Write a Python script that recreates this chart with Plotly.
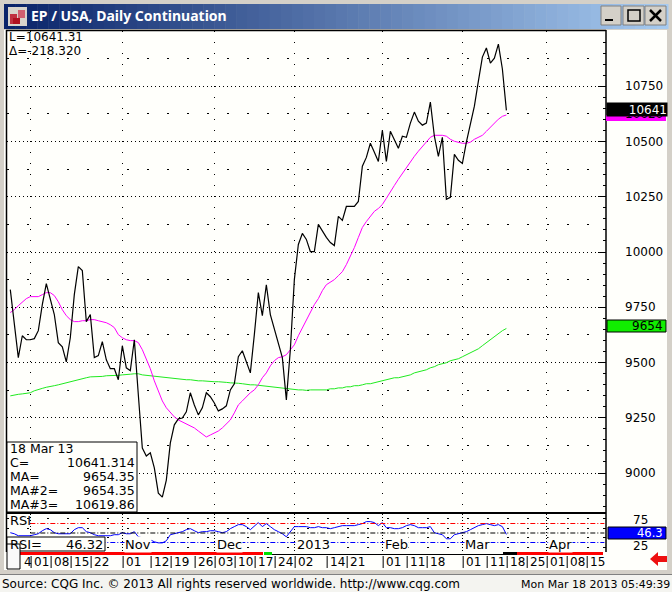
import plotly.graph_objects as go

# daily closes, one per bar
close = [9830,9671,9522,9621,9603,9603,9608,9644,9762,9857,
9785,9717,9590,9571,9503,9612,9807,9934,9916,9685,
9717,9522,9531,9594,9512,9472,9472,9422,9576,9476,
9463,9603,9354,9113,9077,9091,9023,8909,8891,8968,
9136,9218,9245,9249,9277,9363,9308,9263,9295,9363,
9345,9317,9281,9290,9304,9376,9404,9526,9553,9503,
9453,9626,9816,9712,9852,9717,9649,9590,9522,9331,
9558,9875,10034,10084,10057,10002,10002,10125,10093,10066,
10043,10029,10161,10143,10206,10206,10206,10229,10388,10428,
10492,10451,10410,10551,10410,10546,10506,10469,10524,10519,
10583,10633,10592,10574,10583,10678,10524,10433,10519,10238,
10247,10442,10415,10401,10497,10578,10660,10773,10882,10923,
10855,10877,10941,10828,10641]

ma_fast = [9726,9739,9757,9771,9789,9798,9798,9798,9807,9816,
9816,9803,9775,9739,9712,9694,9685,9685,9689,9689,
9694,9694,9689,9685,9680,9671,9658,9626,9612,9603,
9599,9599,9590,9558,9517,9472,9417,9367,9326,9295,
9272,9254,9240,9231,9222,9213,9204,9190,9177,9163,
9172,9181,9190,9204,9222,9240,9272,9308,9326,9345,
9363,9376,9399,9431,9453,9485,9508,9522,9526,9535,
9558,9580,9621,9658,9694,9730,9762,9789,9825,9852,
9862,9875,9893,9911,9943,9979,10020,10066,10111,10138,
10161,10184,10197,10215,10243,10274,10301,10329,10356,10383,
10410,10433,10456,10478,10497,10519,10528,10528,10528,10524,
10510,10501,10497,10492,10492,10497,10510,10519,10528,10546,
10565,10583,10601,10614,10620]

ma_slow = [9349,9354,9356,9358,9361,9363,9372,9376,9383,9388,
9390,9395,9399,9404,9408,9413,9417,9422,9426,9431,
9435,9435,9437,9437,9440,9440,9440,9442,9444,9444,
9447,9449,9449,9444,9442,9440,9437,9435,9435,9431,
9428,9426,9424,9422,9422,9422,9419,9417,9417,9415,
9413,9413,9413,9413,9410,9408,9408,9406,9404,9401,
9399,9399,9397,9395,9392,9390,9388,9385,9383,9381,
9379,9376,9376,9376,9374,9376,9376,9376,9376,9376,
9381,9381,9385,9385,9390,9390,9395,9395,9399,9404,
9404,9408,9413,9417,9422,9426,9431,9431,9435,9440,
9444,9453,9458,9462,9467,9476,9481,9490,9494,9499,
9508,9512,9517,9526,9535,9544,9553,9562,9576,9590,
9603,9617,9630,9644,9654]

rsi = [50.8,48,42.8,42.8,42.8,42.8,45.5,48,56,61.4,
58.8,50.8,48,48,48,48,58.8,64,64,53.5,
50.8,45.5,42.8,42.8,42.8,42.8,45.5,45.5,50.8,48,
48,53.5,40,37.5,34.8,32,26.9,24,24,29.5,
45.5,48,50.8,53.5,58.8,61.4,56,50.8,53.5,53.5,
56,56,53.5,50.8,53.5,61.4,66.8,72,72,66.8,
58.8,69.4,77.4,66.8,74.7,66.8,58.8,53.5,48,40,
53.5,66.8,66.8,66.8,66.8,64,64,66.8,64,64,
61.4,64,66.8,69.4,69.4,69.4,69.4,72,74.7,80,
80,77.4,69.4,77.4,64,64,61.4,61.4,64,69.4,
72,69.4,64,64,64,66.8,50.8,48,45.5,34.8,
34.8,45.5,48,50.8,53.5,58.8,64,69.4,72,74.7,
72,69.4,72,66.8,46.3]

price_ticks = [9000,9250,9500,9750,10000,10250,10500,10750]
price_rows = [9125,9375,9625,9875,10125,10375,10625,10875]
week_labels = ['4','01','08','15','22','01','12','19','26','03','10','17','24','02','14','21','01','11','18','01','11','18','25','01','08','15']
week_bars = [2.4,5,10,15,20,28,35,40,46,51,56,61,66,71,79,84,93,99,104,113,119,124,129,134,139,144]
month_labels = ['Nov','Dec','2013','Feb','Mar','Apr']
month_bars = [28,51,71,93,113,134]
grid_bars = [5,28,51,71,93,113,134]

FONT = 'DejaVu Sans'
W, H = 672, 592
bars = list(range(len(close)))


def px(x):
    return x / W


def py(y):
    return 1 - y / H


def box(x0, y0, x1, y1, fill, line=None, width=1, layer='above'):
    return dict(type='rect', xref='paper', yref='paper', x0=px(x0), x1=px(x1), y0=py(y0), y1=py(y1),
                fillcolor=fill, line=dict(color=line, width=width if line else 0), layer=layer)


def bar_line(x0, y0, x1, y1, color='black', width=1):
    return dict(type='line', xref='paper', yref='paper', x0=px(x0), x1=px(x1), y0=py(y0), y1=py(y1),
                line=dict(color=color, width=width), layer='above')


def label(x, y, text, size=13, color='black', anchor='left', bold=False, family=FONT):
    if bold:
        text = '<b>' + text + '</b>'
    return dict(xref='paper', yref='paper', x=px(x), y=py(y), text=text, showarrow=False, borderpad=0,
                xanchor=anchor, yanchor='middle', font=dict(family=family, size=size, color=color))


fig = go.Figure()
fig.add_trace(go.Scatter(x=bars, y=ma_slow, mode='lines', line=dict(color='#1FEA1F', width=1), hoverinfo='skip'))
fig.add_trace(go.Scatter(x=bars, y=ma_fast, mode='lines', line=dict(color='#FF00FF', width=1), hoverinfo='skip'))
fig.add_trace(go.Scatter(x=bars, y=close, mode='lines', line=dict(color='black', width=1.2), hoverinfo='skip'))
fig.add_trace(go.Scatter(x=bars, y=rsi, mode='lines', line=dict(color='#0000FF', width=1), xaxis='x2', yaxis='y2', hoverinfo='skip'))
# empty trace only to get the dashed rows axis drawn
fig.add_trace(go.Scatter(x=[None], y=[None], yaxis='y3', hoverinfo='skip'))

shapes = []
# window frame and title bar
shapes.append(box(4, 30, 667, 570, '#FFFFFB', layer='below'))
shapes.append(box(0, 575, 672, 592, '#F4F4F0', layer='below'))
shapes.append(bar_line(0, 574.5, 672, 574.5, '#808080', 1))
steps = 60
for n in range(steps):
    t = n / (steps - 1)
    c = 'rgb(%d,%d,%d)' % (10 + t * 156, 36 + t * 166, 106 + t * 134)
    shapes.append(box(4 + 664 * n / steps, 4, 4 + 664 * (n + 1) / steps + 0.5, 29, c))
# icon
shapes.append(box(8, 7, 27, 26, '#D8D4CC'))
shapes.append(box(10, 14, 17, 24, '#C03040'))
shapes.append(box(18, 10, 25, 18, '#D06070'))
shapes.append(box(13, 18, 20, 24, '#B01020'))
# buttons
for x0, x1 in [(601, 621), (623, 644), (645, 666)]:
    shapes.append(box(x0, 6, x1, 25, '#D4D0C8', '#808080'))
shapes.append(box(605, 19, 613, 21, 'black'))
shapes.append(box(628, 10, 640, 21, 'rgba(0,0,0,0)', 'black', 1.5))
shapes.append(bar_line(650, 10, 661, 21, 'black', 2.5))
shapes.append(bar_line(661, 10, 650, 21, 'black', 2.5))
# pane borders
shapes.append(bar_line(6, 30.5, 606, 30.5, 'black', 1.5))
shapes.append(bar_line(6.5, 30, 6.5, 552, 'black', 1.5))
shapes.append(bar_line(606, 30, 606, 552, 'black', 1.5))
shapes.append(bar_line(6, 513, 606, 513, 'black', 2))
# RSI levels
for level, colour in [(75, '#FF0000'), (50, 'black'), (25, '#0000FF')]:
    shapes.append(dict(type='line', xref='x2', yref='y2', x0=5, x1=148.5, y0=level, y1=level,
                       line=dict(color=colour, width=1, dash='5px,2px,1px,2px'), layer='above'))
# date strip
shapes.append(box(20, 552, 263, 555, '#FF0000'))
shapes.append(box(264, 552, 272, 555, '#00E000'))
shapes.append(bar_line(272, 554.5, 503, 554.5, 'black', 1))
shapes.append(box(503, 552, 517, 555, 'black'))
shapes.append(box(517, 552, 603, 555, '#FF0000'))
for b in week_bars[1:]:
    shapes.append(dict(type='line', xref='x2', yref='paper', x0=b + 0.2, x1=b + 0.2, y0=py(556), y1=py(568),
                       line=dict(color='black', width=1), layer='above'))
# value tags
shapes.append(box(606, 115, 666, 121, '#FF00FF'))
shapes.append(box(607, 320, 666, 332, '#11EE00', 'black'))
shapes.append(box(608, 527, 666, 539, '#0000FF', 'black'))
# info boxes
shapes.append(box(7, 442, 137, 512, '#FFFFFB', 'black'))
shapes.append(box(7, 537, 105, 551, '#FFFFFB', 'black'))
shapes.append(box(7, 544, 20, 569, '#FAFAFA', 'black'))
# arrow
shapes.append(dict(type='path', xref='paper', yref='paper', layer='above', fillcolor='#EE1010', line=dict(width=0),
                   path='M %f %f L %f %f L %f %f L %f %f L %f %f L %f %f L %f %f Z' % (
                       px(650), py(559), px(658), py(552), px(658), py(556), px(667), py(556),
                       px(667), py(562), px(658), py(562), px(658), py(566))))

notes = [
    label(30, 16, 'EP / USA, Daily Continuation', size=14, color='white', bold=True, family='Noto Sans'),
    label(8, 37, 'L=10641.31', size=12),
    label(8, 51, '\u0394=-218.320', size=12),
    label(9, 448, '18 Mar 13', size=12.5),
    label(9, 462.5, 'C=', size=12.5),
    label(136, 462.5, '10641.314', size=12.5, anchor='right'),
    label(9, 476.5, 'MA=', size=12.5),
    label(136, 476.5, '9654.35', size=12.5, anchor='right'),
    label(9, 490.5, 'MA#2=', size=12.5),
    label(136, 490.5, '9654.35', size=12.5, anchor='right'),
    label(9, 504.5, 'MA#3=', size=12.5),
    label(136, 504.5, '10619.86', size=12.5, anchor='right'),
    label(9, 520, 'RSI'),
    label(9, 544, 'RSI='),
    label(104, 544, '46.32', anchor='right'),
    # 10620 sits behind the black tag, only its lower edge shows
    label(664, 114, '10620', size=12, anchor='right'),
    dict(xref='paper', yref='paper', x=px(606), y=py(109.5), text='10641', showarrow=False, xanchor='left',
         yanchor='middle', width=60, height=13, align='right', bgcolor='black', borderpad=0,
         font=dict(family=FONT, size=12, color='white')),
    label(664, 326, '9654', size=12, anchor='right'),
    label(632, 520, '75', size=12),
    label(632, 546, '25', size=12),
    label(664, 533, '46.3', size=11.5, color='white', anchor='right'),
    label(1, 584, 'Source: CQG Inc. \u00a9 2013 All rights reserved worldwide. http://www.cqg.com', size=12),
    label(671, 584, 'Mon Mar 18 2013 05:49:39', size=11, anchor='right'),
]
for text, b in zip(week_labels, week_bars):
    notes.append(dict(xref='x2', yref='paper', x=b + 0.4, y=py(562), text=text, showarrow=False, xanchor='left',
                      yanchor='middle', font=dict(family=FONT, size=12, color='black')))
for text, b in zip(month_labels, month_bars):
    notes.append(dict(xref='x2', yref='paper', x=b + 0.3, y=py(544), text=text, showarrow=False, xanchor='left',
                      yanchor='middle', bgcolor='#FFFFFB', borderpad=0, font=dict(family=FONT, size=13, color='black')))

x_range = [-0.825, 148.9]
price_range = [8819, 11000]
fig.update_layout(
    width=W, height=H, autosize=False, showlegend=False,
    margin=dict(l=0, r=0, t=0, b=0, pad=0),
    paper_bgcolor='#D4D0C8', plot_bgcolor='#FFFFFB',
    shapes=shapes, annotations=notes,
    xaxis=dict(domain=[px(7), px(606)], range=x_range, anchor='y', showticklabels=False, ticks='',
               tickmode='array', tickvals=grid_bars, showgrid=True, gridcolor='black', griddash='1px,10px',
               gridwidth=1, zeroline=False, showline=False),
    yaxis=dict(domain=[py(513), py(31)], range=price_range, anchor='x', side='right',
               tickmode='array', tickvals=price_ticks, tickformat='d', ticks='inside', ticklen=8, tickcolor='black',
               ticklabelstandoff=18, tickfont=dict(family=FONT, size=12, color='black'),
               showgrid=True, gridcolor='black', griddash='1px,3px', gridwidth=1, zeroline=False, showline=False,
               minor=dict(dtick=50, tick0=9000, ticks='inside', ticklen=3, tickcolor='black', showgrid=False)),
    yaxis3=dict(range=price_range, overlaying='y', anchor='x', side='right', showticklabels=False, ticks='',
                tickmode='array', tickvals=price_rows, showgrid=True, gridcolor='black', griddash='2px,18px',
                gridwidth=1, zeroline=False, showline=False),
    xaxis2=dict(domain=[px(7), px(606)], range=x_range, anchor='y2', showticklabels=False, ticks='',
                tickmode='array', tickvals=grid_bars, showgrid=True, gridcolor='black', griddash='1px,2px',
                gridwidth=1, zeroline=False, showline=False),
    yaxis2=dict(domain=[py(552), py(514)], range=[0, 100], anchor='x2', side='right', showticklabels=False,
                tickmode='array', tickvals=[12.5, 37.5, 62.5, 87.5], ticks='inside', ticklen=3, tickcolor='black',
                showgrid=True, gridcolor='black', griddash='2px,18px', gridwidth=1, zeroline=False, showline=False),
)

fig.write_html("out.html", config=dict(displayModeBar=False),
               post_script="document.body.style.margin='0';document.body.style.overflow='hidden';")
